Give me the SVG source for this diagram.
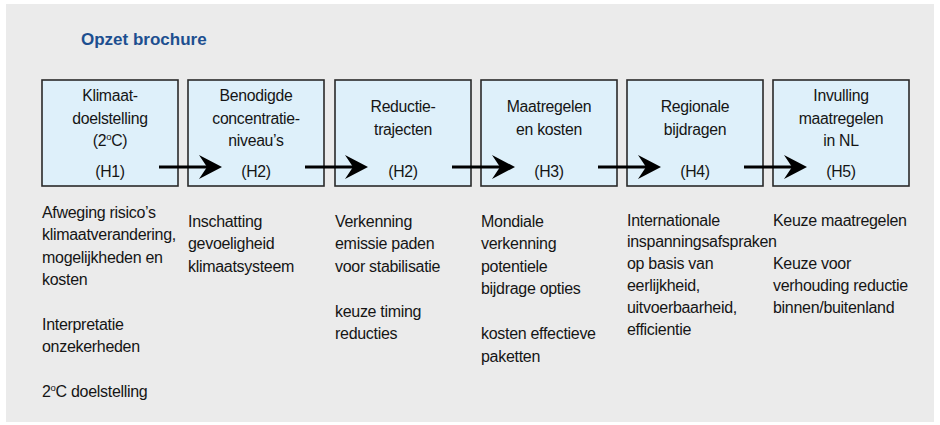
<svg xmlns="http://www.w3.org/2000/svg" width="940" height="425" viewBox="0 0 940 425">
<defs>
<style>
.bg{fill:#ebebeb}
.box{fill:#def0fa;stroke:#2a2a2a;stroke-width:1.6}
.t{font-family:"Liberation Sans",Arial,sans-serif;font-size:15.8px;letter-spacing:-0.3px;fill:#151515}
.c{text-anchor:middle}
.d{font-family:"Liberation Sans",Arial,sans-serif;font-size:16px;letter-spacing:-0.3px;fill:#151515}
.title{font-family:"Liberation Sans",Arial,sans-serif;font-size:17px;font-weight:bold;fill:#1d4f90}
.conn{stroke:#000;stroke-width:3;fill:none;marker-end:url(#ah)}
</style>
<marker id="ah" markerUnits="userSpaceOnUse" markerWidth="24" markerHeight="25" refX="8" refY="12" orient="auto" overflow="visible">
<path d="M0,0 L23,12 L0,24 L8,12 Z" fill="#000"/>
</marker>
</defs>
<rect class="bg" x="6" y="4" width="928" height="418"/>
<text class="title" x="81" y="45">Opzet brochure</text>

<g id="n1">
<rect class="box" x="42" y="80" width="136" height="106"/>
<text class="t c" x="110" y="101">Klimaat-</text>
<text class="t c" x="110" y="123.5">doelstelling</text>
<text class="t c" x="110" y="146">(2<tspan font-size="9.5" dy="-6">o</tspan><tspan dy="6">C)</tspan></text>
<text class="t c" x="110" y="177">(H1)</text>
</g>
<g id="n2">
<rect class="box" x="188" y="80" width="136" height="106"/>
<text class="t c" x="256" y="101">Benodigde</text>
<text class="t c" x="256" y="123.5">concentratie-</text>
<text class="t c" x="256" y="146">niveau’s</text>
<text class="t c" x="256" y="177">(H2)</text>
</g>
<g id="n3">
<rect class="box" x="335" y="80" width="136" height="106"/>
<text class="t c" x="403" y="112">Reductie-</text>
<text class="t c" x="403" y="134.5">trajecten</text>
<text class="t c" x="403" y="177">(H2)</text>
</g>
<g id="n4">
<rect class="box" x="481" y="80" width="136" height="106"/>
<text class="t c" x="549" y="112">Maatregelen</text>
<text class="t c" x="549" y="134.5">en kosten</text>
<text class="t c" x="549" y="177">(H3)</text>
</g>
<g id="n5">
<rect class="box" x="627" y="80" width="136" height="106"/>
<text class="t c" x="695" y="112">Regionale</text>
<text class="t c" x="695" y="134.5">bijdragen</text>
<text class="t c" x="695" y="177">(H4)</text>
</g>
<g id="n6">
<rect class="box" x="773" y="80" width="136" height="106"/>
<text class="t c" x="841" y="101">Invulling</text>
<text class="t c" x="841" y="123.5">maatregelen</text>
<text class="t c" x="841" y="146">in NL</text>
<text class="t c" x="841" y="177">(H5)</text>
</g>

<g id="connectors">
<path class="conn" d="M159,167 H207"/>
<path class="conn" d="M305,167 H353"/>
<path class="conn" d="M452,167 H500"/>
<path class="conn" d="M598,167 H646"/>
<path class="conn" d="M744,167 H792"/>
</g>

<g id="desc1">
<text class="d" x="42" y="218">Afweging risico’s</text>
<text class="d" x="42" y="240.4">klimaatverandering,</text>
<text class="d" x="42" y="262.8">mogelijkheden en</text>
<text class="d" x="42" y="285.2">kosten</text>
<text class="d" x="42" y="330">Interpretatie</text>
<text class="d" x="42" y="352.4">onzekerheden</text>
<text class="d" x="42" y="397.2">2<tspan font-size="9.5" dy="-6">o</tspan><tspan dy="6">C doelstelling</tspan></text>
</g>
<g id="desc2">
<text class="d" x="188" y="226.5">Inschatting</text>
<text class="d" x="188" y="249">gevoeligheid</text>
<text class="d" x="188" y="271.5">klimaatsysteem</text>
</g>
<g id="desc3">
<text class="d" x="335" y="226.5">Verkenning</text>
<text class="d" x="335" y="249">emissie paden</text>
<text class="d" x="335" y="271.5">voor stabilisatie</text>
<text class="d" x="335" y="316.5">keuze timing</text>
<text class="d" x="335" y="339">reducties</text>
</g>
<g id="desc4">
<text class="d" x="481" y="226.5">Mondiale</text>
<text class="d" x="481" y="249">verkenning</text>
<text class="d" x="481" y="271.5">potentiele</text>
<text class="d" x="481" y="294">bijdrage opties</text>
<text class="d" x="481" y="339">kosten effectieve</text>
<text class="d" x="481" y="361.5">paketten</text>
</g>
<g id="desc5">
<text class="d" x="627" y="225.5">Internationale</text>
<text class="d" x="627" y="247.4">inspanningsafspraken</text>
<text class="d" x="627" y="269.3">op basis van</text>
<text class="d" x="627" y="291.2">eerlijkheid,</text>
<text class="d" x="627" y="313.1">uitvoerbaarheid,</text>
<text class="d" x="627" y="335">efficientie</text>
</g>
<g id="desc6">
<text class="d" x="773" y="225.5">Keuze maatregelen</text>
<text class="d" x="773" y="269.3">Keuze voor</text>
<text class="d" x="773" y="291.2">verhouding reductie</text>
<text class="d" x="773" y="313.1">binnen/buitenland</text>
</g>
</svg>
